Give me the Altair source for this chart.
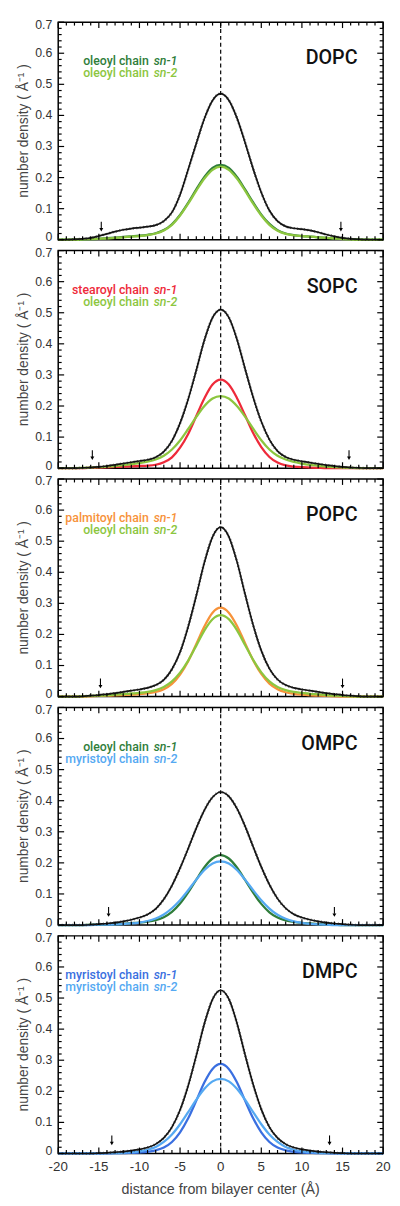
import altair as alt
import pandas as pd

X = list(range(-20, 21))

DOPC_TOTAL = [0, 0, 0.001, 0.003, 0.006, 0.012, 0.019, 0.026, 0.032, 0.036, 0.039, 0.042, 0.047, 0.060, 0.088, 0.145, 0.226, 0.310, 0.390, 0.448, 0.470, 0.449, 0.392, 0.313, 0.228, 0.152, 0.094, 0.060, 0.043, 0.037, 0.034, 0.030, 0.024, 0.017, 0.011, 0.006, 0.003, 0.001, 0, 0, 0]
DOPC_SN1 = [0, 0, 0, 0.001, 0.002, 0.003, 0.005, 0.007, 0.009, 0.011, 0.013, 0.016, 0.021, 0.031, 0.050, 0.080, 0.119, 0.162, 0.202, 0.231, 0.241, 0.231, 0.202, 0.162, 0.120, 0.081, 0.051, 0.031, 0.020, 0.015, 0.012, 0.010, 0.008, 0.006, 0.004, 0.003, 0.002, 0.001, 0, 0, 0]
DOPC_SN2 = [0, 0, 0, 0.001, 0.002, 0.003, 0.004, 0.006, 0.008, 0.010, 0.012, 0.015, 0.020, 0.030, 0.048, 0.078, 0.116, 0.158, 0.197, 0.225, 0.235, 0.225, 0.197, 0.158, 0.116, 0.078, 0.048, 0.029, 0.019, 0.014, 0.012, 0.010, 0.008, 0.006, 0.004, 0.002, 0.001, 0, 0, 0, 0]

SOPC_TOTAL = [0, 0, 0, 0.001, 0.002, 0.004, 0.007, 0.011, 0.015, 0.019, 0.023, 0.027, 0.035, 0.053, 0.088, 0.145, 0.222, 0.315, 0.412, 0.484, 0.510, 0.485, 0.415, 0.320, 0.228, 0.150, 0.092, 0.055, 0.036, 0.027, 0.022, 0.018, 0.014, 0.010, 0.007, 0.004, 0.002, 0.001, 0, 0, 0]
SOPC_SN1 = [0, 0, 0, 0, 0.001, 0.002, 0.003, 0.004, 0.005, 0.006, 0.007, 0.008, 0.011, 0.019, 0.035, 0.066, 0.110, 0.168, 0.225, 0.269, 0.285, 0.269, 0.226, 0.170, 0.113, 0.068, 0.036, 0.018, 0.009, 0.005, 0.003, 0.002, 0.001, 0, 0, 0, 0, 0, 0, 0, 0]
SOPC_SN2 = [0, 0, 0, 0.001, 0.002, 0.003, 0.005, 0.007, 0.010, 0.013, 0.016, 0.021, 0.028, 0.040, 0.060, 0.089, 0.126, 0.165, 0.200, 0.224, 0.232, 0.224, 0.200, 0.166, 0.127, 0.090, 0.060, 0.040, 0.028, 0.020, 0.015, 0.011, 0.008, 0.005, 0.003, 0.002, 0.001, 0, 0, 0, 0]

POPC_TOTAL = [0, 0, 0, 0.001, 0.003, 0.005, 0.008, 0.011, 0.015, 0.019, 0.023, 0.028, 0.037, 0.054, 0.088, 0.143, 0.225, 0.325, 0.432, 0.514, 0.545, 0.515, 0.435, 0.330, 0.230, 0.148, 0.090, 0.055, 0.037, 0.028, 0.023, 0.019, 0.015, 0.011, 0.008, 0.005, 0.003, 0.001, 0, 0, 0]
POPC_SN1 = [0, 0, 0, 0, 0.001, 0.002, 0.003, 0.004, 0.005, 0.006, 0.008, 0.010, 0.015, 0.024, 0.041, 0.071, 0.114, 0.169, 0.226, 0.270, 0.286, 0.270, 0.228, 0.172, 0.117, 0.073, 0.042, 0.024, 0.014, 0.009, 0.006, 0.004, 0.003, 0.002, 0.001, 0, 0, 0, 0, 0, 0]
POPC_SN2 = [0, 0, 0, 0.001, 0.002, 0.003, 0.004, 0.006, 0.008, 0.010, 0.012, 0.015, 0.021, 0.031, 0.049, 0.077, 0.116, 0.164, 0.213, 0.249, 0.262, 0.249, 0.214, 0.166, 0.118, 0.078, 0.049, 0.031, 0.021, 0.015, 0.012, 0.009, 0.007, 0.005, 0.003, 0.002, 0.001, 0, 0, 0, 0]

OMPC_TOTAL = [0, 0, 0, 0, 0.001, 0.003, 0.005, 0.008, 0.012, 0.017, 0.024, 0.034, 0.052, 0.083, 0.127, 0.183, 0.246, 0.312, 0.370, 0.411, 0.428, 0.414, 0.375, 0.318, 0.252, 0.187, 0.130, 0.085, 0.054, 0.035, 0.024, 0.017, 0.012, 0.008, 0.005, 0.003, 0.001, 0, 0, 0, 0]
OMPC_SN1 = [0, 0, 0, 0, 0.001, 0.001, 0.002, 0.003, 0.004, 0.006, 0.008, 0.011, 0.016, 0.025, 0.042, 0.069, 0.105, 0.146, 0.186, 0.214, 0.225, 0.214, 0.185, 0.145, 0.104, 0.068, 0.041, 0.024, 0.015, 0.010, 0.007, 0.005, 0.003, 0.002, 0.001, 0, 0, 0, 0, 0, 0]
OMPC_SN2 = [0, 0, 0, 0, 0, 0.001, 0.001, 0.002, 0.003, 0.005, 0.008, 0.013, 0.021, 0.034, 0.054, 0.080, 0.112, 0.146, 0.177, 0.198, 0.205, 0.198, 0.177, 0.146, 0.112, 0.080, 0.053, 0.033, 0.020, 0.012, 0.007, 0.004, 0.002, 0.001, 0, 0, 0, 0, 0, 0, 0]

DMPC_TOTAL = [0, 0, 0, 0, 0, 0.001, 0.002, 0.004, 0.006, 0.009, 0.013, 0.019, 0.030, 0.050, 0.085, 0.140, 0.218, 0.315, 0.418, 0.496, 0.525, 0.497, 0.420, 0.318, 0.222, 0.142, 0.085, 0.050, 0.030, 0.019, 0.013, 0.009, 0.006, 0.004, 0.002, 0.001, 0, 0, 0, 0, 0]
DMPC_SN1 = [0, 0, 0, 0, 0, 0, 0, 0.001, 0.001, 0.002, 0.003, 0.005, 0.010, 0.019, 0.037, 0.068, 0.113, 0.170, 0.229, 0.272, 0.288, 0.272, 0.229, 0.170, 0.113, 0.068, 0.037, 0.019, 0.010, 0.005, 0.003, 0.002, 0.001, 0.001, 0, 0, 0, 0, 0, 0, 0]
DMPC_SN2 = [0, 0, 0, 0, 0, 0, 0.001, 0.001, 0.002, 0.004, 0.007, 0.012, 0.021, 0.037, 0.061, 0.094, 0.133, 0.173, 0.208, 0.232, 0.240, 0.232, 0.208, 0.173, 0.133, 0.094, 0.061, 0.037, 0.021, 0.012, 0.007, 0.004, 0.002, 0.001, 0.001, 0, 0, 0, 0, 0, 0]

ARROWS = {
    "DOPC": [-14.7, 14.8],
    "SOPC": [-15.8, 15.8],
    "POPC": [-14.8, 15.0],
    "OMPC": [-13.8, 14.0],
    "DMPC": [-13.4, 13.4],
}

X_MAJOR = [-20, -15, -10, -5, 0, 5, 10, 15, 20]
X_LABELS = ["-20", "-15", "-10", "-5", "0", "5", "10", "15", "20"]
X_MINOR = [v for v in range(-20, 21) if v % 5 != 0]
Y_MAJOR = [0, 0.1, 0.2, 0.3, 0.4, 0.5, 0.6, 0.7]
Y_LABELS = ["0", "0.1", "0.2", "0.3", "0.4", "0.5", "0.6", "0.7"]
Y_MINOR = [0.02, 0.04, 0.06, 0.08, 0.12, 0.14, 0.16, 0.18, 0.22, 0.24, 0.26, 0.28,
           0.32, 0.34, 0.36, 0.38, 0.42, 0.44, 0.46, 0.48, 0.52, 0.54, 0.56, 0.58,
           0.62, 0.64, 0.66, 0.68]
Y_TITLE = "number density ( Å⁻¹ )"
X_TITLE = "distance from bilayer center (Å)"

DKGREEN = "#2f7d3a"
LTGREEN = "#8cc63f"
RED = "#ee2a3a"
ORANGE = "#f7923a"
LTBLUE = "#55a9f2"
DKBLUE = "#3a6fe0"

PANELS = [
    ("DOPC", DOPC_TOTAL, [("oleoyl chain", "sn-1", DKGREEN, DOPC_SN1), ("oleoyl chain", "sn-2", LTGREEN, DOPC_SN2)]),
    ("SOPC", SOPC_TOTAL, [("stearoyl chain", "sn-1", RED, SOPC_SN1), ("oleoyl chain", "sn-2", LTGREEN, SOPC_SN2)]),
    ("POPC", POPC_TOTAL, [("palmitoyl chain", "sn-1", ORANGE, POPC_SN1), ("oleoyl chain", "sn-2", LTGREEN, POPC_SN2)]),
    ("OMPC", OMPC_TOTAL, [("oleoyl chain", "sn-1", DKGREEN, OMPC_SN1), ("myristoyl chain", "sn-2", LTBLUE, OMPC_SN2)]),
    ("DMPC", DMPC_TOTAL, [("myristoyl chain", "sn-1", DKBLUE, DMPC_SN1), ("myristoyl chain", "sn-2", LTBLUE, DMPC_SN2)]),
]

W, H = 330, 221
XS = alt.Scale(domain=[-20, 20], nice=False, zero=False)
YS = alt.Scale(domain=[0, 0.7], nice=False)
AXFONT = "Liberation Sans"
TXFONT = "Roboto"


def xe(field="x"):
    return alt.X(f"{field}:Q", scale=XS, axis=None)


def ye(field="y"):
    return alt.Y(f"{field}:Q", scale=YS, axis=None)


def yd(val):
    return alt.Y(datum=val, scale=YS, axis=None)


def ylabels(vals, labs, dy):
    return alt.Chart(pd.DataFrame({"y": vals, "t": labs})).mark_text(
        font=AXFONT, fontSize=12.5, color="#333", align="right", baseline="middle", dy=dy
    ).encode(y=ye(), x=alt.value(-6), text="t:N")


def panel(name, total, chains, bottom):
    layers = []
    tot = pd.DataFrame({"x": X, "y": total})
    for lab, sn, col, vals in chains:
        d = pd.DataFrame({"x": X, "y": vals})
        layers.append(alt.Chart(d).mark_line(color=col, strokeWidth=2.3, interpolate="monotone")
                      .encode(x=xe(), y=ye()))
    layers.append(alt.Chart(tot).mark_line(color="#111", strokeWidth=1.7, interpolate="monotone")
                  .encode(x=xe(), y=ye()))
    layers.append(alt.Chart(tot).mark_line(color="#222", strokeWidth=2.6, strokeDash=[1, 2.5],
                                           opacity=0.7, interpolate="monotone")
                  .encode(x=xe(), y=ye()))
    layers.append(alt.Chart(pd.DataFrame({"x": [0]})).mark_rule(color="black", strokeWidth=1.2,
                                                               strokeDash=[4, 3])
                  .encode(x=xe()))
    arr = pd.DataFrame({"x": ARROWS[name]})
    layers.append(alt.Chart(arr).mark_rule(color="black", strokeWidth=1.1)
                  .encode(x=xe(), y=yd(0.058), y2=alt.Y2(datum=0.036)))
    layers.append(alt.Chart(arr).mark_point(shape="triangle-down", filled=True, size=16,
                                            color="black", opacity=1)
                  .encode(x=xe(), y=yd(0.032)))
    # inward ticks on all four sides
    maj, mnr = 6, 3.5
    for vals, L in ((Y_MAJOR, maj), (Y_MINOR, mnr)):
        df = pd.DataFrame({"y": vals})
        layers.append(alt.Chart(df).mark_rule(color="black", strokeWidth=1.2)
                      .encode(y=ye(), x=alt.value(0), x2=alt.value(L)))
        layers.append(alt.Chart(df).mark_rule(color="black", strokeWidth=1.2)
                      .encode(y=ye(), x=alt.value(W), x2=alt.value(W - L)))
    for vals, L in ((X_MAJOR, maj), (X_MINOR, mnr)):
        df = pd.DataFrame({"x": vals})
        layers.append(alt.Chart(df).mark_rule(color="black", strokeWidth=1.2)
                      .encode(x=xe(), y=alt.value(H), y2=alt.value(H - L)))
        layers.append(alt.Chart(df).mark_rule(color="black", strokeWidth=1.2)
                      .encode(x=xe(), y=alt.value(0), y2=alt.value(L)))
    # y tick labels (end labels nudged apart so neighbouring panels' labels do not collide)
    layers.append(ylabels(Y_MAJOR[:1], Y_LABELS[:1], -2.5))
    layers.append(ylabels(Y_MAJOR[1:-1], Y_LABELS[1:-1], 0))
    layers.append(ylabels(Y_MAJOR[-1:], Y_LABELS[-1:], 2.5))
    layers.append(alt.Chart(pd.DataFrame({"t": [Y_TITLE]})).mark_text(
        font=AXFONT, fontSize=14, color="#444", angle=270, align="center", baseline="middle")
        .encode(x=alt.value(-35), y=alt.value(H / 2), text="t:N"))
    if bottom:
        layers.append(alt.Chart(pd.DataFrame({"x": X_MAJOR, "t": X_LABELS})).mark_text(
            font=AXFONT, fontSize=13.5, color="#333", align="center", baseline="middle")
            .encode(x=xe(), y=alt.value(H + 14), text="t:N"))
        layers.append(alt.Chart(pd.DataFrame({"t": [X_TITLE]})).mark_text(
            font=AXFONT, fontSize=14.5, color="#444", align="center", baseline="middle")
            .encode(x=alt.value(W / 2), y=alt.value(H + 37), text="t:N"))
    layers.append(alt.Chart(pd.DataFrame({"t": [name]})).mark_text(
        font=TXFONT, fontSize=20, fontWeight=500, color="#111", align="right", baseline="middle")
        .encode(x=alt.value(304), y=alt.value(37), text="t:N"))
    for i, (lab, sn, col, vals) in enumerate(chains):
        yy = 40 + i * 12
        layers.append(alt.Chart(pd.DataFrame({"t": [lab]})).mark_text(
            font=TXFONT, fontSize=12.5, fontWeight=500, color=col, align="right", baseline="middle")
            .encode(x=alt.value(92), y=alt.value(yy), text="t:N"))
        layers.append(alt.Chart(pd.DataFrame({"t": [sn]})).mark_text(
            font=TXFONT, fontSize=12.5, fontWeight=500, fontStyle="italic", color=col,
            align="left", baseline="middle")
            .encode(x=alt.value(97), y=alt.value(yy), text="t:N"))
    return alt.layer(*layers).properties(width=W, height=H)


charts = [panel(n, t, c, i == len(PANELS) - 1) for i, (n, t, c) in enumerate(PANELS)]
chart = (
    alt.vconcat(*charts, spacing=11, bounds="flush")
    .properties(padding={"left": 8, "top": 0, "right": 0, "bottom": 0}, background="white")
    .configure_view(stroke="black", strokeWidth=1.5)
)

chart.save("out.html", embed_options={"renderer": "svg", "actions": False})
